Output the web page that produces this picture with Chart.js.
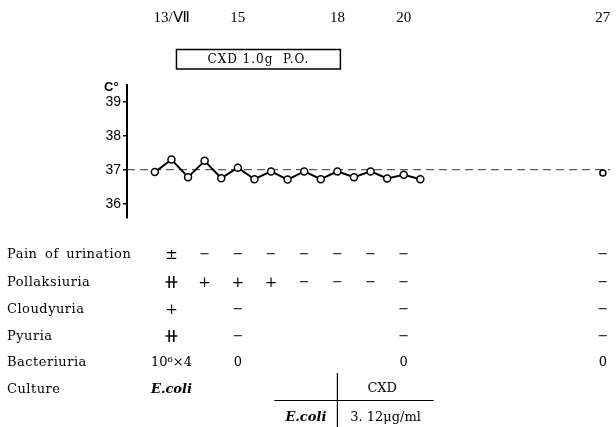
<!DOCTYPE html>
<html>
<head>
<meta charset="utf-8">
<script src="https://cdn.jsdelivr.net/npm/chart.js@4.4.1/dist/chart.umd.min.js"></script>
<style>
  html, body { margin: 0; padding: 0; background: #fff; }
  canvas { display: block; }
</style>
</head>
<body>
<canvas id="chart" width="616" height="427"></canvas>
<script>
// Temperature readings, twice a day (day of July)
const readingDays = [12.5, 13, 13.5, 14, 14.5, 15, 15.5, 16, 16.5, 17, 17.5, 18, 18.5, 19, 19.5, 20, 20.5];
const temperatures = [36.93, 37.3, 36.78, 37.26, 36.75, 37.06, 36.72, 36.95, 36.71, 36.95, 36.72, 36.95, 36.78, 36.95, 36.74, 36.85, 36.72];
const followUpDays = [27];
const followUpTemps = [36.9];
const normalTemp = 37;

// axis
const yTicks = [36, 37, 38, 39];
const dateDays = [13, 15, 18, 20, 27];
const dateLabels = ['13/Ⅶ', '15', '18', '20', '27'];

// dosing
const doseDays = [13, 18];
const doseLabel = 'CXD 1.0g  P.O.';

// clinical findings table
const columnDays = [13, 14, 15, 16, 17, 18, 19, 20, 27];
const rowLabels = ['Pain of urination', 'Pollaksiuria', 'Cloudyuria', 'Pyuria', 'Bacteriuria', 'Culture'];
const painOfUrination = ['±', '−', '−', '−', '−', '−', '−', '−', '−'];
const pollaksiuria = ['⧺', '+', '+', '+', '−', '−', '−', '−', '−'];
const cloudyuria = ['+', '', '−', '', '', '', '', '−', '−'];
const pyuria = ['⧺', '', '−', '', '', '', '', '−', '−'];
const bacteriuria = ['10⁶×4', '', '0', '', '', '', '', '0', '0'];
const culture = ['E.coli', '', '', '', '', '', '', '', ''];
const tableRows = [painOfUrination, pollaksiuria, cloudyuria, pyuria, bacteriuria, culture];

// MIC sub-table
const micOrganism = 'E.coli';
const micDrug = 'CXD';
const micValue = '3. 12μg/ml';

// axis break: 27 is drawn one day closer
const BREAK_AFTER = 21.5;
const axisPos = d => d > BREAK_AFTER ? d - 1 : d;
const X_MIN = 11.66, X_MAX = 26.23;

const SERIF = "'DejaVu Serif', serif";

const overlay = {
  id: 'overlay',
  afterDraw(chart) {
    const ctx = chart.ctx;
    const x = chart.scales.x;
    const px = d => x.getPixelForValue(axisPos(d));
    ctx.save();
    ctx.fillStyle = '#000';
    ctx.strokeStyle = '#000';
    ctx.textBaseline = 'middle';

    // dates on top
    ctx.textAlign = 'center';
    ctx.font = "15px 'Liberation Serif', serif";
    dateDays.forEach((d, i) => ctx.fillText(dateLabels[i], px(d), 18));

    // dose box
    const bx0 = px(doseDays[0]) + 5, bx1 = px(doseDays[1]) + 3;
    ctx.lineWidth = 1.5;
    ctx.strokeRect(bx0, 49.5, bx1 - bx0, 19.5);
    ctx.font = "12px " + SERIF;
    ctx.letterSpacing = '1px';
    ctx.fillText(doseLabel, (bx0 + bx1) / 2, 59.5);

    // unit label
    ctx.letterSpacing = '0px';
    ctx.textAlign = 'left';
    ctx.font = "bold 13px 'Liberation Sans', sans-serif";
    ctx.fillText('C°', 104, 87);

    // table
    const rowY = [255, 283, 310, 337, 363, 390];
    ctx.letterSpacing = '0.5px';
    ctx.wordSpacing = '3px';
    ctx.font = "13px " + SERIF;
    rowLabels.forEach((lab, r) => ctx.fillText(lab, 7, rowY[r]));
    ctx.wordSpacing = '0px';
    ctx.letterSpacing = '0px';
    ctx.textAlign = 'center';
    tableRows.forEach((row, r) => {
      row.forEach((v, c) => {
        if (!v) return;
        if (v === '⧺') ctx.font = "19px 'DejaVu Sans', sans-serif";
        else if (v === '±' || v === '+') ctx.font = "15px " + SERIF;
        else if (rowLabels[r] === 'Culture') ctx.font = 'italic bold 13px ' + SERIF;
        else ctx.font = '13px ' + SERIF;
        ctx.fillText(v, px(columnDays[c]), rowY[r]);
      });
    });

    // MIC sub-table
    ctx.lineWidth = 1.2;
    ctx.beginPath();
    ctx.moveTo(px(16.1), 400.5);
    ctx.lineTo(px(20.9), 400.5);
    ctx.moveTo(px(18), 373);
    ctx.lineTo(px(18), 427);
    ctx.stroke();
    ctx.font = "13px " + SERIF;
    ctx.fillText(micDrug, px(19.35), 389);
    ctx.fillText(micValue, px(19.45), 418);
    ctx.font = "italic bold 13px " + SERIF;
    ctx.fillText(micOrganism, px(17.05), 418);
    ctx.restore();
  }
};

new Chart(document.getElementById('chart'), {
  type: 'line',
  data: {
    datasets: [
      {
        data: readingDays.map((d, i) => ({ x: axisPos(d), y: temperatures[i] })),
        borderColor: '#000',
        borderWidth: 2,
        pointRadius: 3.5,
        pointBackgroundColor: '#fff',
        pointBorderColor: '#000',
        pointBorderWidth: 1.5,
        tension: 0
      },
      {
        data: followUpDays.map((d, i) => ({ x: axisPos(d), y: followUpTemps[i] })),
        showLine: false,
        pointRadius: 3,
        pointBackgroundColor: '#fff',
        pointBorderColor: '#000',
        pointBorderWidth: 1.5
      },
      {
        data: [{ x: X_MIN, y: normalTemp }, { x: X_MAX, y: normalTemp }],
        borderColor: '#333',
        borderWidth: 1,
        borderDash: [8, 5],
        pointRadius: 0
      }
    ]
  },
  options: {
    responsive: false,
    devicePixelRatio: 1,
    animation: false,
    layout: { padding: { top: 85, bottom: 209, left: 0, right: 0 } },
    plugins: { legend: { display: false }, tooltip: { enabled: false } },
    scales: {
      x: { type: 'linear', min: X_MIN, max: X_MAX, display: false },
      y: {
        min: 35.58,
        max: 39.49,
        afterFit: s => { s.width = 127; },
        afterBuildTicks: s => { s.ticks = yTicks.map(v => ({ value: v })); },
        border: { display: true, color: '#000', width: 2 },
        grid: { drawOnChartArea: false, drawTicks: true, tickLength: 4, color: '#000', lineWidth: 1.5 },
        ticks: { color: '#000', padding: 2, font: { family: "'Liberation Sans', sans-serif", size: 14 } }
      }
    }
  },
  plugins: [overlay]
});
</script>
</body>
</html>
